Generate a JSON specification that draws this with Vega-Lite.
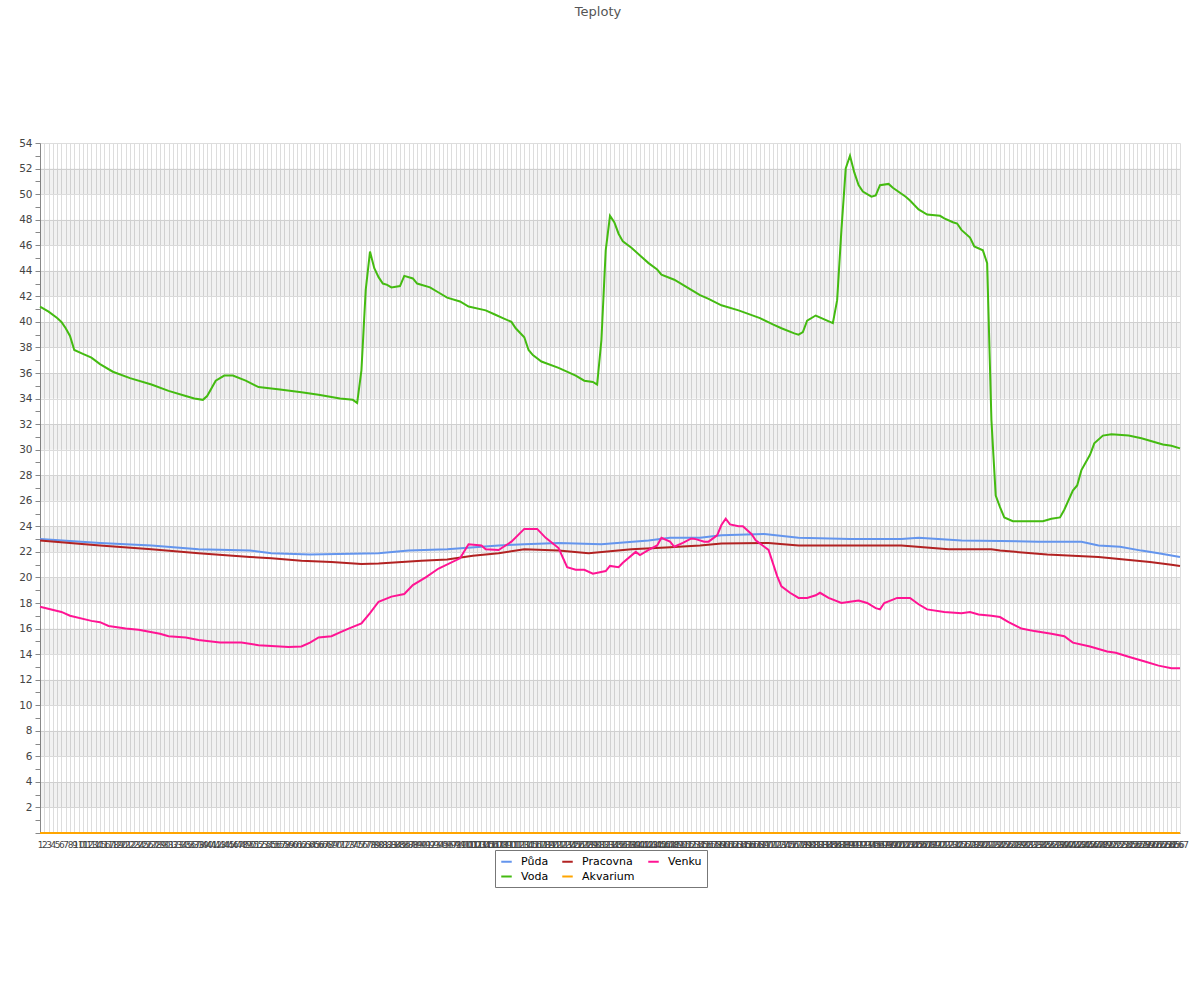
{
  "$schema": "https://vega.github.io/schema/vega-lite/v6.json",
  "autosize": {"type": "none"},
  "padding": {"left": 40, "top": 143, "right": 20, "bottom": 167},
  "width": 1140,
  "height": 690,
  "background": "white",
  "title": {"text": "Teploty", "font": "DejaVu Sans", "fontSize": 13, "fontWeight": "normal", "color": "#555555", "offset": 119, "anchor": "middle", "dx": -12},
  "config": {"view": {"stroke": null}, "font": "DejaVu Sans"},
  "layer": [
    {
      "data": {"values": [
        {"lo": 2, "hi": 4}, {"lo": 6, "hi": 8}, {"lo": 10, "hi": 12}, {"lo": 14, "hi": 16},
        {"lo": 18, "hi": 20}, {"lo": 22, "hi": 24}, {"lo": 26, "hi": 28}, {"lo": 30, "hi": 32},
        {"lo": 34, "hi": 36}, {"lo": 38, "hi": 40}, {"lo": 42, "hi": 44}, {"lo": 46, "hi": 48},
        {"lo": 50, "hi": 52}
      ]},
      "mark": {"type": "rect", "fill": "#000000", "fillOpacity": 0.055},
      "encoding": {
        "y": {
          "field": "lo", "type": "quantitative",
          "scale": {"domain": [0, 54], "nice": false, "zero": true},
          "axis": {
            "title": null,
            "values": [0,1,2,3,4,5,6,7,8,9,10,11,12,13,14,15,16,17,18,19,20,21,22,23,24,25,26,27,28,29,30,31,32,33,34,35,36,37,38,39,40,41,42,43,44,45,46,47,48,49,50,51,52,53,54],
            "labelExpr": "(datum.value % 2 == 0 && datum.value > 0) ? datum.label : ''",
            "labelFontSize": 10.5, "labelColor": "#444444", "labelPadding": 3,
            "tickSize": 5, "tickColor": "#888888", "domainColor": "#888888",
            "grid": true, "gridColor": "#dddddd",
            "gridOpacity": {"condition": {"test": "datum.value % 2 == 1", "value": 0}, "value": 1}
          }
        },
        "y2": {"field": "hi"}
      }
    },
    {
      "data": {"values": [
        {"s":"Půda","i":1,"t":23.0},{"s":"Půda","i":15,"t":22.7},{"s":"Půda","i":27,"t":22.5},{"s":"Půda","i":38,"t":22.2},{"s":"Půda","i":50,"t":22.1},{"s":"Půda","i":55,"t":21.9},{"s":"Půda","i":64,"t":21.8},{"s":"Půda","i":80,"t":21.9},{"s":"Půda","i":87,"t":22.1},{"s":"Půda","i":96,"t":22.2},{"s":"Půda","i":108,"t":22.5},{"s":"Půda","i":114,"t":22.6},{"s":"Půda","i":122,"t":22.7},{"s":"Půda","i":132,"t":22.6},{"s":"Půda","i":143,"t":22.9},{"s":"Půda","i":148,"t":23.1},{"s":"Půda","i":155,"t":23.1},{"s":"Půda","i":160,"t":23.3},{"s":"Půda","i":170,"t":23.4},{"s":"Půda","i":178,"t":23.1},{"s":"Půda","i":190,"t":23.0},{"s":"Půda","i":202,"t":23.0},{"s":"Půda","i":206,"t":23.1},{"s":"Půda","i":216,"t":22.9},{"s":"Půda","i":225,"t":22.85},{"s":"Půda","i":234,"t":22.8},{"s":"Půda","i":244,"t":22.8},{"s":"Půda","i":248,"t":22.5},{"s":"Půda","i":253,"t":22.4},{"s":"Půda","i":258,"t":22.1},{"s":"Půda","i":262,"t":21.9},{"s":"Půda","i":267,"t":21.6},
        {"s":"Pracovna","i":1,"t":22.9},{"s":"Pracovna","i":15,"t":22.5},{"s":"Pracovna","i":27,"t":22.2},{"s":"Pracovna","i":38,"t":21.9},{"s":"Pracovna","i":50,"t":21.6},{"s":"Pracovna","i":55,"t":21.5},{"s":"Pracovna","i":62,"t":21.3},{"s":"Pracovna","i":69,"t":21.2},{"s":"Pracovna","i":76,"t":21.05},{"s":"Pracovna","i":80,"t":21.1},{"s":"Pracovna","i":90,"t":21.3},{"s":"Pracovna","i":96,"t":21.4},{"s":"Pracovna","i":102,"t":21.7},{"s":"Pracovna","i":108,"t":21.9},{"s":"Pracovna","i":114,"t":22.2},{"s":"Pracovna","i":122,"t":22.1},{"s":"Pracovna","i":129,"t":21.9},{"s":"Pracovna","i":139,"t":22.2},{"s":"Pracovna","i":147,"t":22.35},{"s":"Pracovna","i":155,"t":22.5},{"s":"Pracovna","i":160,"t":22.65},{"s":"Pracovna","i":171,"t":22.7},{"s":"Pracovna","i":178,"t":22.5},{"s":"Pracovna","i":202,"t":22.5},{"s":"Pracovna","i":213,"t":22.2},{"s":"Pracovna","i":223,"t":22.2},{"s":"Pracovna","i":225,"t":22.1},{"s":"Pracovna","i":236,"t":21.8},{"s":"Pracovna","i":248,"t":21.6},{"s":"Pracovna","i":260,"t":21.2},{"s":"Pracovna","i":265,"t":21.0},{"s":"Pracovna","i":267,"t":20.9},
        {"s":"Venku","i":1,"t":17.7},{"s":"Venku","i":6,"t":17.3},{"s":"Venku","i":8,"t":17.0},{"s":"Venku","i":13,"t":16.6},{"s":"Venku","i":15,"t":16.5},{"s":"Venku","i":17,"t":16.2},{"s":"Venku","i":21,"t":16.0},{"s":"Venku","i":24,"t":15.9},{"s":"Venku","i":29,"t":15.6},{"s":"Venku","i":31,"t":15.4},{"s":"Venku","i":35,"t":15.3},{"s":"Venku","i":38,"t":15.1},{"s":"Venku","i":43,"t":14.9},{"s":"Venku","i":48,"t":14.9},{"s":"Venku","i":52,"t":14.7},{"s":"Venku","i":57,"t":14.6},{"s":"Venku","i":59,"t":14.55},{"s":"Venku","i":62,"t":14.6},{"s":"Venku","i":64,"t":14.9},{"s":"Venku","i":66,"t":15.3},{"s":"Venku","i":69,"t":15.4},{"s":"Venku","i":71,"t":15.7},{"s":"Venku","i":73,"t":16.0},{"s":"Venku","i":76,"t":16.4},{"s":"Venku","i":78,"t":17.2},{"s":"Venku","i":80,"t":18.1},{"s":"Venku","i":83,"t":18.5},{"s":"Venku","i":86,"t":18.7},{"s":"Venku","i":88,"t":19.4},{"s":"Venku","i":91,"t":20.0},{"s":"Venku","i":94,"t":20.7},{"s":"Venku","i":99,"t":21.5},{"s":"Venku","i":101,"t":22.6},{"s":"Venku","i":104,"t":22.5},{"s":"Venku","i":105,"t":22.2},{"s":"Venku","i":108,"t":22.15},{"s":"Venku","i":111,"t":22.8},{"s":"Venku","i":114,"t":23.8},{"s":"Venku","i":117,"t":23.8},{"s":"Venku","i":119,"t":23.1},{"s":"Venku","i":122,"t":22.3},{"s":"Venku","i":124,"t":20.8},{"s":"Venku","i":126,"t":20.6},{"s":"Venku","i":128,"t":20.6},{"s":"Venku","i":130,"t":20.3},{"s":"Venku","i":133,"t":20.5},{"s":"Venku","i":134,"t":20.9},{"s":"Venku","i":136,"t":20.8},{"s":"Venku","i":137,"t":21.15},{"s":"Venku","i":140,"t":22.0},{"s":"Venku","i":141,"t":21.75},{"s":"Venku","i":143,"t":22.15},{"s":"Venku","i":145,"t":22.5},{"s":"Venku","i":146,"t":23.1},{"s":"Venku","i":148,"t":22.8},{"s":"Venku","i":149,"t":22.4},{"s":"Venku","i":151,"t":22.7},{"s":"Venku","i":153,"t":23.05},{"s":"Venku","i":154,"t":23.0},{"s":"Venku","i":156,"t":22.8},{"s":"Venku","i":157,"t":22.8},{"s":"Venku","i":159,"t":23.3},{"s":"Venku","i":160,"t":24.1},{"s":"Venku","i":161,"t":24.6},{"s":"Venku","i":162,"t":24.15},{"s":"Venku","i":164,"t":24.0},{"s":"Venku","i":165,"t":24.0},{"s":"Venku","i":167,"t":23.4},{"s":"Venku","i":168,"t":22.9},{"s":"Venku","i":170,"t":22.4},{"s":"Venku","i":171,"t":22.15},{"s":"Venku","i":173,"t":20.1},{"s":"Venku","i":174,"t":19.3},{"s":"Venku","i":176,"t":18.8},{"s":"Venku","i":178,"t":18.4},{"s":"Venku","i":180,"t":18.4},{"s":"Venku","i":182,"t":18.6},{"s":"Venku","i":183,"t":18.8},{"s":"Venku","i":185,"t":18.4},{"s":"Venku","i":188,"t":18.0},{"s":"Venku","i":190,"t":18.1},{"s":"Venku","i":192,"t":18.2},{"s":"Venku","i":194,"t":18.0},{"s":"Venku","i":196,"t":17.6},{"s":"Venku","i":197,"t":17.5},{"s":"Venku","i":198,"t":18.0},{"s":"Venku","i":201,"t":18.4},{"s":"Venku","i":204,"t":18.4},{"s":"Venku","i":206,"t":17.9},{"s":"Venku","i":208,"t":17.5},{"s":"Venku","i":212,"t":17.3},{"s":"Venku","i":216,"t":17.2},{"s":"Venku","i":218,"t":17.3},{"s":"Venku","i":220,"t":17.1},{"s":"Venku","i":223,"t":17.0},{"s":"Venku","i":225,"t":16.9},{"s":"Venku","i":227,"t":16.5},{"s":"Venku","i":230,"t":16.0},{"s":"Venku","i":233,"t":15.8},{"s":"Venku","i":237,"t":15.6},{"s":"Venku","i":240,"t":15.4},{"s":"Venku","i":242,"t":14.9},{"s":"Venku","i":246,"t":14.6},{"s":"Venku","i":250,"t":14.2},{"s":"Venku","i":252,"t":14.1},{"s":"Venku","i":255,"t":13.8},{"s":"Venku","i":259,"t":13.4},{"s":"Venku","i":262,"t":13.1},{"s":"Venku","i":265,"t":12.9},{"s":"Venku","i":267,"t":12.9},
        {"s":"Voda","i":1,"t":41.2},{"s":"Voda","i":3,"t":40.8},{"s":"Voda","i":5,"t":40.3},{"s":"Voda","i":6,"t":40.0},{"s":"Voda","i":7,"t":39.5},{"s":"Voda","i":8,"t":38.9},{"s":"Voda","i":9,"t":37.8},{"s":"Voda","i":11,"t":37.5},{"s":"Voda","i":13,"t":37.2},{"s":"Voda","i":15,"t":36.7},{"s":"Voda","i":18,"t":36.1},{"s":"Voda","i":22,"t":35.6},{"s":"Voda","i":27,"t":35.1},{"s":"Voda","i":31,"t":34.6},{"s":"Voda","i":35,"t":34.2},{"s":"Voda","i":37,"t":34.0},{"s":"Voda","i":39,"t":33.9},{"s":"Voda","i":40,"t":34.2},{"s":"Voda","i":42,"t":35.4},{"s":"Voda","i":44,"t":35.8},{"s":"Voda","i":46,"t":35.8},{"s":"Voda","i":49,"t":35.4},{"s":"Voda","i":52,"t":34.9},{"s":"Voda","i":57,"t":34.7},{"s":"Voda","i":62,"t":34.5},{"s":"Voda","i":66,"t":34.3},{"s":"Voda","i":71,"t":34.0},{"s":"Voda","i":74,"t":33.9},{"s":"Voda","i":75,"t":33.65},{"s":"Voda","i":76,"t":36.2},{"s":"Voda","i":77,"t":42.5},{"s":"Voda","i":78,"t":45.5},{"s":"Voda","i":79,"t":44.2},{"s":"Voda","i":80,"t":43.5},{"s":"Voda","i":81,"t":43.0},{"s":"Voda","i":82,"t":42.9},{"s":"Voda","i":83,"t":42.7},{"s":"Voda","i":85,"t":42.8},{"s":"Voda","i":86,"t":43.6},{"s":"Voda","i":88,"t":43.4},{"s":"Voda","i":89,"t":43.0},{"s":"Voda","i":92,"t":42.7},{"s":"Voda","i":94,"t":42.3},{"s":"Voda","i":96,"t":41.9},{"s":"Voda","i":99,"t":41.6},{"s":"Voda","i":101,"t":41.2},{"s":"Voda","i":105,"t":40.9},{"s":"Voda","i":107,"t":40.6},{"s":"Voda","i":109,"t":40.3},{"s":"Voda","i":111,"t":40.0},{"s":"Voda","i":112,"t":39.5},{"s":"Voda","i":114,"t":38.8},{"s":"Voda","i":115,"t":37.8},{"s":"Voda","i":116,"t":37.4},{"s":"Voda","i":118,"t":36.9},{"s":"Voda","i":122,"t":36.4},{"s":"Voda","i":126,"t":35.8},{"s":"Voda","i":128,"t":35.4},{"s":"Voda","i":130,"t":35.3},{"s":"Voda","i":131,"t":35.1},{"s":"Voda","i":132,"t":38.6},{"s":"Voda","i":133,"t":45.6},{"s":"Voda","i":134,"t":48.3},{"s":"Voda","i":135,"t":47.8},{"s":"Voda","i":136,"t":46.9},{"s":"Voda","i":137,"t":46.3},{"s":"Voda","i":139,"t":45.8},{"s":"Voda","i":141,"t":45.2},{"s":"Voda","i":143,"t":44.6},{"s":"Voda","i":145,"t":44.1},{"s":"Voda","i":146,"t":43.7},{"s":"Voda","i":149,"t":43.3},{"s":"Voda","i":152,"t":42.7},{"s":"Voda","i":155,"t":42.1},{"s":"Voda","i":157,"t":41.8},{"s":"Voda","i":160,"t":41.3},{"s":"Voda","i":164,"t":40.9},{"s":"Voda","i":169,"t":40.3},{"s":"Voda","i":172,"t":39.8},{"s":"Voda","i":174,"t":39.5},{"s":"Voda","i":177,"t":39.1},{"s":"Voda","i":178,"t":39.0},{"s":"Voda","i":179,"t":39.2},{"s":"Voda","i":180,"t":40.1},{"s":"Voda","i":182,"t":40.5},{"s":"Voda","i":184,"t":40.2},{"s":"Voda","i":186,"t":39.9},{"s":"Voda","i":187,"t":41.7},{"s":"Voda","i":188,"t":47.2},{"s":"Voda","i":189,"t":52.0},{"s":"Voda","i":190,"t":53.0},{"s":"Voda","i":191,"t":51.7},{"s":"Voda","i":192,"t":50.7},{"s":"Voda","i":193,"t":50.2},{"s":"Voda","i":195,"t":49.8},{"s":"Voda","i":196,"t":49.9},{"s":"Voda","i":197,"t":50.7},{"s":"Voda","i":199,"t":50.8},{"s":"Voda","i":200,"t":50.5},{"s":"Voda","i":203,"t":49.8},{"s":"Voda","i":204,"t":49.5},{"s":"Voda","i":206,"t":48.8},{"s":"Voda","i":208,"t":48.4},{"s":"Voda","i":211,"t":48.3},{"s":"Voda","i":212,"t":48.1},{"s":"Voda","i":214,"t":47.8},{"s":"Voda","i":215,"t":47.7},{"s":"Voda","i":216,"t":47.2},{"s":"Voda","i":218,"t":46.6},{"s":"Voda","i":219,"t":45.9},{"s":"Voda","i":221,"t":45.6},{"s":"Voda","i":222,"t":44.6},{"s":"Voda","i":223,"t":32.3},{"s":"Voda","i":224,"t":26.4},{"s":"Voda","i":225,"t":25.5},{"s":"Voda","i":226,"t":24.7},{"s":"Voda","i":228,"t":24.4},{"s":"Voda","i":232,"t":24.4},{"s":"Voda","i":235,"t":24.4},{"s":"Voda","i":237,"t":24.6},{"s":"Voda","i":239,"t":24.7},{"s":"Voda","i":240,"t":25.3},{"s":"Voda","i":242,"t":26.8},{"s":"Voda","i":243,"t":27.2},{"s":"Voda","i":244,"t":28.4},{"s":"Voda","i":246,"t":29.6},{"s":"Voda","i":247,"t":30.5},{"s":"Voda","i":249,"t":31.1},{"s":"Voda","i":251,"t":31.2},{"s":"Voda","i":255,"t":31.1},{"s":"Voda","i":258,"t":30.9},{"s":"Voda","i":261,"t":30.6},{"s":"Voda","i":263,"t":30.4},{"s":"Voda","i":265,"t":30.3},{"s":"Voda","i":267,"t":30.1},
        {"s":"Akvarium","i":1,"t":0},{"s":"Akvarium","i":267,"t":0}
      ]},
      "mark": {"type": "line", "strokeWidth": 2, "interpolate": "linear"},
      "encoding": {
        "x": {
          "field": "i", "type": "quantitative",
          "scale": {"domain": [1, 267], "nice": false, "zero": false},
          "axis": {
            "title": null, "tickCount": 267, "labelOverlap": false, "labelFlush": false, "labelBound": false,
            "labelFontSize": 9, "labelColor": "#444444", "labelPadding": 7, "ticks": false,
            "domain": true, "domainColor": "#888888",
            "grid": true, "gridColor": "#dddddd", "gridWidth": 1
          }
        },
        "y": {
          "field": "t", "type": "quantitative",
          "scale": {"domain": [0, 54], "nice": false, "zero": true},
          "axis": {
            "title": null,
            "values": [0,1,2,3,4,5,6,7,8,9,10,11,12,13,14,15,16,17,18,19,20,21,22,23,24,25,26,27,28,29,30,31,32,33,34,35,36,37,38,39,40,41,42,43,44,45,46,47,48,49,50,51,52,53,54],
            "labelExpr": "(datum.value % 2 == 0 && datum.value > 0) ? datum.label : ''",
            "labelFontSize": 10.5, "labelColor": "#444444", "labelPadding": 3,
            "tickSize": 5, "tickColor": "#888888", "domainColor": "#888888",
            "grid": true, "gridColor": "#dddddd",
            "gridOpacity": {"condition": {"test": "datum.value % 2 == 1", "value": 0}, "value": 1}
          }
        },
        "color": {
          "field": "s", "type": "nominal",
          "scale": {
            "domain": ["Půda", "Pracovna", "Venku", "Voda", "Akvarium"],
            "range": ["#6495ED", "#B22222", "#FF1493", "#44BB11", "#FFA500"]
          },
          "legend": {
            "title": null, "orient": "none", "legendX": 455, "legendY": 707,
            "direction": "horizontal", "columns": 3,
            "symbolType": "stroke", "symbolStrokeWidth": 2, "symbolSize": 110,
            "labelFontSize": 11, "labelColor": "#000000", "labelOffset": 8,
            "columnPadding": 9, "rowPadding": 3,
            "strokeColor": "#777777", "padding": 5, "fillColor": "white"
          }
        }
      }
    }
  ]
}
